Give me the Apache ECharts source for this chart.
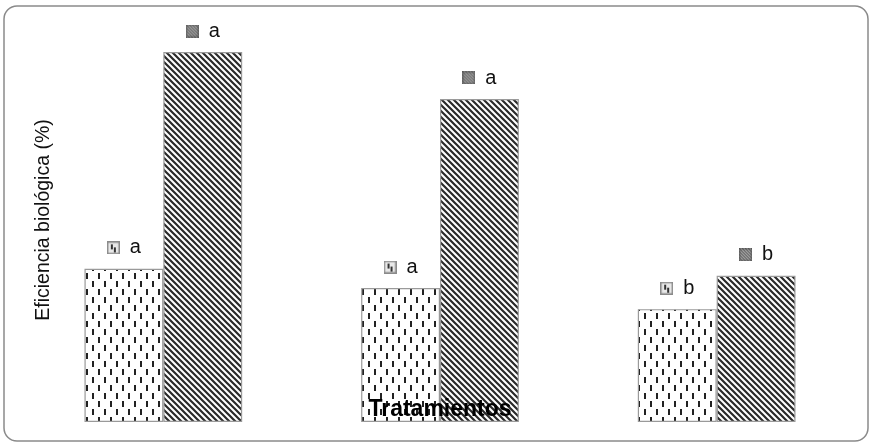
<!DOCTYPE html>
<html>
<head>
<meta charset="utf-8">
<script src="https://cdn.jsdelivr.net/npm/echarts@6/dist/echarts.min.js"></script>
<style>
html,body{margin:0;padding:0;background:#fff;}
#chart{width:871px;height:444px;}
</style>
</head>
<body>
<div id="chart"></div>
<script>
// Data
const categories = ['T1', 'T2', 'T3'];
const seriesDotted = [41.4, 36.2, 30.5];
const seriesHatched = [100, 87.3, 39.5];
const lettersDotted = ['a', 'a', 'b'];
const lettersHatched = ['a', 'a', 'b'];
const yTitle = 'Eficiencia biológica (%)';
const xTitle = 'Tratamientos';

function dottedCanvas() {
  const c = document.createElement('canvas');
  c.width = 12; c.height = 16;
  const g = c.getContext('2d');
  g.fillStyle = '#ffffff'; g.fillRect(0, 0, 12, 16);
  g.fillStyle = '#222222';
  g.fillRect(2, 1, 2, 6);
  g.fillRect(8, 9, 2, 6);
  return c;
}
function hatchCanvas() {
  const s = 6;
  const c = document.createElement('canvas');
  c.width = s; c.height = s;
  const g = c.getContext('2d');
  g.fillStyle = '#ffffff'; g.fillRect(0, 0, s, s);
  g.strokeStyle = '#2a2a2a'; g.lineWidth = 2.2;
  g.beginPath();
  g.moveTo(-1, -1); g.lineTo(s + 1, s + 1);
  g.moveTo(-1, s - 1); g.lineTo(1, s + 1);
  g.moveTo(s - 1, -1); g.lineTo(s + 1, 1);
  g.stroke();
  return c;
}
function iconCanvas(kind) {
  const n = 13;
  const c = document.createElement('canvas');
  c.width = n; c.height = n;
  const g = c.getContext('2d');
  g.fillStyle = '#e8e8e8'; g.fillRect(0, 0, n, n);
  g.strokeStyle = '#8a8a8a'; g.lineWidth = 1.5; g.strokeRect(0.75, 0.75, n - 1.5, n - 1.5);
  if (kind === 'dot') {
    g.fillStyle = '#333'; g.fillRect(4, 3, 2, 5); g.fillRect(7, 6, 2, 5);
  } else {
    g.strokeStyle = '#555'; g.lineWidth = 1.4;
    g.beginPath();
    for (let k = -12; k <= 12; k += 3) { g.moveTo(k, 0); g.lineTo(k + n, n); }
    g.stroke();
  }
  return c;
}

const dotPat = { image: dottedCanvas(), repeat: 'repeat' };
const hatchPat = { image: hatchCanvas(), repeat: 'repeat' };
const iconDot = iconCanvas('dot');
const iconHatch = iconCanvas('hatch');

function makeLabel(letters, icon) {
  return {
    show: true,
    position: 'top',
    distance: 11,
    formatter: p => '{ic|}   {t|' + letters[p.dataIndex] + '}',
    rich: {
      ic: { width: 13, height: 13, backgroundColor: { image: icon } },
      t: { fontSize: 20, color: '#111', fontFamily: 'Liberation Sans, Arial, sans-serif' }
    }
  };
}

const chart = echarts.init(document.getElementById('chart'), null, { renderer: 'canvas' });
chart.setOption({
  animation: false,
  backgroundColor: '#fff',
  grid: { left: 25, right: 16, top: 52, bottom: 22 },
  xAxis: {
    type: 'category',
    data: categories,
    axisLine: { show: false },
    axisTick: { show: false },
    axisLabel: { show: false }
  },
  yAxis: {
    type: 'value',
    min: 0,
    max: 100,
    axisLine: { show: false },
    axisTick: { show: false },
    axisLabel: { show: false },
    splitLine: { show: false }
  },
  series: [
    {
      type: 'bar',
      data: seriesDotted,
      barGap: '0%',
      barCategoryGap: '43%',
      itemStyle: { color: dotPat, borderColor: '#9a9a9a', borderWidth: 1.2 },
      label: makeLabel(lettersDotted, iconDot)
    },
    {
      type: 'bar',
      data: seriesHatched,
      itemStyle: { color: hatchPat, borderColor: '#9a9a9a', borderWidth: 1.2 },
      label: makeLabel(lettersHatched, iconHatch)
    }
  ],
  graphic: [
    {
      type: 'rect',
      shape: { x: 4, y: 6, width: 864, height: 435, r: 13 },
      style: { fill: null, stroke: '#8a8a8a', lineWidth: 1.5 },
      silent: true
    },
    {
      type: 'text',
      rotation: Math.PI / 2,
      style: {
        text: yTitle,
        fontSize: 19.5,
        fill: '#111',
        fontFamily: 'Liberation Sans, Arial, sans-serif',
        x: 0, y: 0, align: 'center', verticalAlign: 'middle'
      },
      position: [44, 220],
      z: 10
    },
    {
      type: 'text',
      style: {
        text: xTitle,
        fontSize: 23,
        fontWeight: 'bold',
        fill: '#000',
        fontFamily: 'Liberation Sans, Arial, sans-serif',
        align: 'center',
        verticalAlign: 'middle'
      },
      position: [440, 410],
      z: 10
    }
  ]
});
</script>
</body>
</html>
